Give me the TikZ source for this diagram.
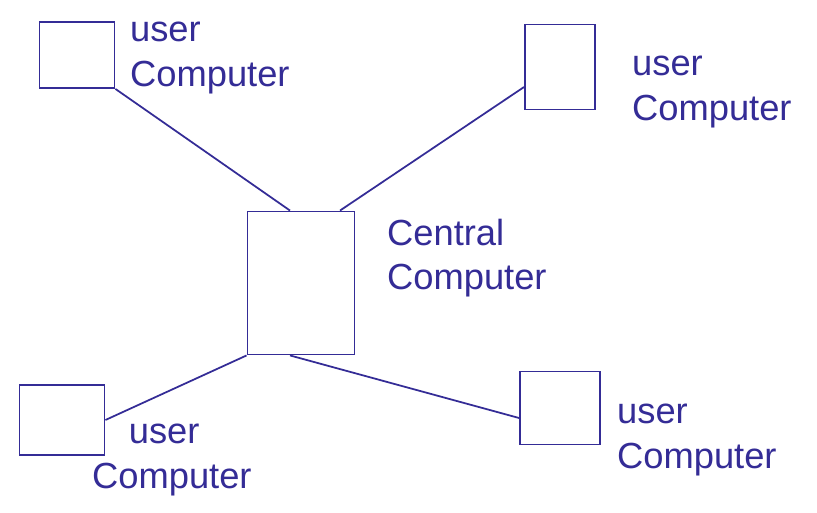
\documentclass[tikz,border=0pt]{standalone}
\usepackage{fontspec}
\setmainfont{Liberation Sans}
\usepackage{xcolor}
\usetikzlibrary{positioning}
\definecolor{ink}{RGB}{52,44,150}

\begin{document}
\begin{tikzpicture}[x=0.03cm, y=-0.03cm,
    pc/.style={rectangle, draw=ink, line width=1.6pt, inner sep=0pt},
    tag/.style={anchor=west, align=left, text=ink, font=\fontsize{31}{38}\selectfont},
    wire/.style={ink, line width=1.5pt}
]
\useasboundingbox (0,0) rectangle (817,513);

\node[pc, minimum width=2.25cm, minimum height=1.98cm] (tlpc) at (77,55) {};
\node[pc, minimum width=2.1cm, minimum height=2.55cm] (trpc) at (560,67) {};
\node[pc, minimum width=3.21cm, minimum height=4.29cm] (central) at (301,283) {};
\node[pc, minimum width=2.55cm, minimum height=2.1cm] (blpc) at (62,420) {};
\node[pc, minimum width=2.4cm, minimum height=2.19cm] (brpc) at (560,408) {};

\node[tag] (tllabel) at (126,58) {user\\Computer};
\node[tag] (trlabel) at (628,92) {user\\Computer};
\node[tag] (centrallabel) at (383,258) {Central\\Computer};
\node[tag] (bllabel) at (88,460) {\hspace{1.1cm}user\\Computer};
\node[tag] (brlabel) at (613,440) {user\\Computer};

\draw[wire] (tlpc.south east) -- ([xshift=-0.33cm]central.north);
\draw[wire] ([yshift=-0.6cm]trpc.west) -- ([xshift=1.17cm]central.north);
\draw[wire] (central.south west) -- (blpc.east);
\draw[wire] ([xshift=-0.33cm]central.south) -- ([yshift=-0.3cm]brpc.west);

\end{tikzpicture}
\end{document}
